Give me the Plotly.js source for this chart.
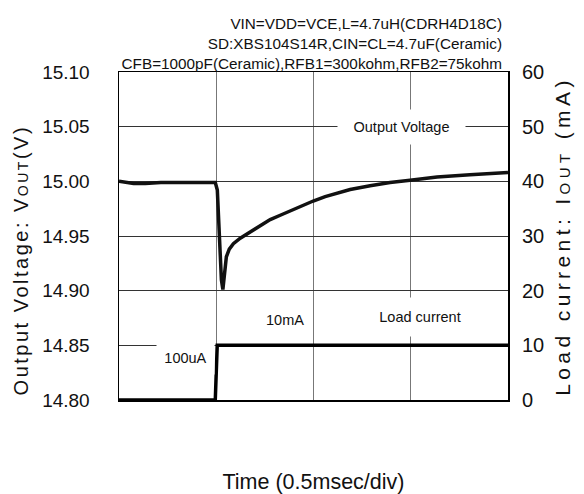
<!DOCTYPE html>
<html>
<head>
<meta charset="utf-8">
<script src="https://cdn.plot.ly/plotly-3.0.1.min.js"></script>
<style>html,body{margin:0;padding:0;background:#fff;}#chart{width:584px;height:494px;}</style>
</head>
<body>
<div id="chart"></div>
<script>
// Time in divisions (0.5 msec/div)
var voutTime = [0, 0.15, 0.27, 0.43, 0.63, 0.84, 0.99, 1.011, 1.032, 1.053, 1.068, 1.083, 1.104, 1.134, 1.176, 1.247, 1.35, 1.453, 1.555, 1.658, 1.761, 1.863, 1.997, 2.12, 2.243, 2.377, 2.582, 2.787, 2.993, 3.27, 3.609, 3.814, 4.0];
// Output voltage (V)
var voutValues = [15.000, 14.998, 14.998, 14.999, 14.999, 14.999, 14.999, 14.992, 14.946, 14.910, 14.901, 14.914, 14.931, 14.938, 14.943, 14.948, 14.954, 14.960, 14.965, 14.969, 14.973, 14.977, 14.982, 14.986, 14.989, 14.9925, 14.996, 14.999, 15.001, 15.004, 15.006, 15.007, 15.008];
// Load current step
var loadTime = [0, 0.99, 1.01, 4.0];
var loadCurrent = [0, 0, 10, 10];

var voltTicks = [14.80, 14.85, 14.90, 14.95, 15.00, 15.05, 15.10];
var currTicks = [0, 10, 20, 30, 40, 50, 60];

var headerLines = [
  "VIN=VDD=VCE,L=4.7uH(CDRH4D18C)",
  "SD:XBS104S14R,CIN=CL=4.7uF(Ceramic)",
  "CFB=1000pF(Ceramic),RFB1=300kohm,RFB2=75kohm"
];

var FONT = "Liberation Sans, Arial, sans-serif";
var NB = "\u00a0";

function spaced(txt, ls, size) {
  var st = 'letter-spacing:' + ls + 'px' + (size ? ';font-size:' + size + 'px' : '');
  return "<span style='" + st + "'>" + txt + "</span>";
}

var leftTitle = spaced("Output Voltage: V", 2.5) + spaced("OUT", 2.5, 14) + spaced("(V)" + NB + NB + NB + NB + NB + NB, 2.5);
var rightTitle = spaced("Load current: I", 4.4) + spaced("OUT", 4.4, 15) + spaced(" (mA)", 4.4);

var traces = [
  {x: voutTime, y: voutValues, type: 'scatter', mode: 'lines',
   line: {color: '#111', width: 3.5}, yaxis: 'y', showlegend: false, hoverinfo: 'skip'},
  {x: loadTime, y: loadCurrent, type: 'scatter', mode: 'lines',
   line: {color: '#000', width: 3.5}, yaxis: 'y2', showlegend: false, hoverinfo: 'skip'}
];

var layout = {
  width: 584, height: 494,
  margin: {l: 119, r: 76, t: 72, b: 94, pad: 0},
  paper_bgcolor: '#fff', plot_bgcolor: '#fff',
  font: {family: FONT, color: '#111', size: 19},
  title: {
    text: headerLines.join('<br>'),
    font: {family: FONT, size: 15.3, color: '#111'},
    x: 502/584, xref: 'container', xanchor: 'right',
    y: 1 - 29/494, yref: 'container', yanchor: 'top'
  },
  xaxis: {
    range: [0, 4], dtick: 1, tick0: 0,
    showticklabels: false, ticks: '',
    showgrid: true, gridcolor: '#777', gridwidth: 1,
    showline: true, mirror: true, linecolor: '#000', linewidth: 1.5,
    zeroline: false,
    title: {text: 'Time (0.5msec/div)', font: {family: FONT, size: 21.5, color: '#111'}, standoff: 73}
  },
  yaxis: {
    range: [14.80, 15.10], tickvals: voltTicks, ticktext: voltTicks.map(function(v){return v.toFixed(2);}),
    ticks: '', ticklabelstandoff: 24,
    tickfont: {family: FONT, size: 19, color: '#111'},
    showgrid: true, gridcolor: '#333', gridwidth: 1,
    showline: true, mirror: true, linecolor: '#000', linewidth: 1.5,
    zeroline: false,
    title: {text: leftTitle, font: {family: FONT, size: 20, color: '#111'}, standoff: 8}
  },
  yaxis2: {
    range: [0, 60], tickvals: currTicks,
    overlaying: 'y', side: 'right',
    ticks: '', ticklabelstandoff: 13,
    tickfont: {family: FONT, size: 20, color: '#111'},
    showgrid: false, zeroline: false, showline: false,
    title: {text: rightTitle, font: {family: FONT, size: 21, color: '#111'}, standoff: 12}
  },
  annotations: [
    {text: 'Output Voltage', xref: 'x', yref: 'y', x: 2.9, y: 15.05, showarrow: false,
     font: {family: FONT, size: 14.5, color: '#111'}, bgcolor: '#fff', width: 125, height: 32, xanchor: 'center', yanchor: 'middle'},
    {text: 'Load current', xref: 'x', yref: 'y', x: 3.1, y: 14.876, showarrow: false,
     font: {family: FONT, size: 14.5, color: '#111'}, bgcolor: '#fff', width: 96, height: 36, xanchor: 'center', yanchor: 'middle'},
    {text: '10mA', xref: 'x', yref: 'y', x: 1.71, y: 14.873, showarrow: false,
     font: {family: FONT, size: 14.5, color: '#111'}, xanchor: 'center', yanchor: 'middle'},
    {text: '100uA', xref: 'x', yref: 'y', x: 0.685, y: 14.838, showarrow: false,
     font: {family: FONT, size: 14.5, color: '#111'}, bgcolor: '#fff', width: 55, height: 30, xanchor: 'center', yanchor: 'middle'}
  ]
};

Plotly.newPlot('chart', traces, layout, {displayModeBar: false, staticPlot: true});
</script>
</body>
</html>
